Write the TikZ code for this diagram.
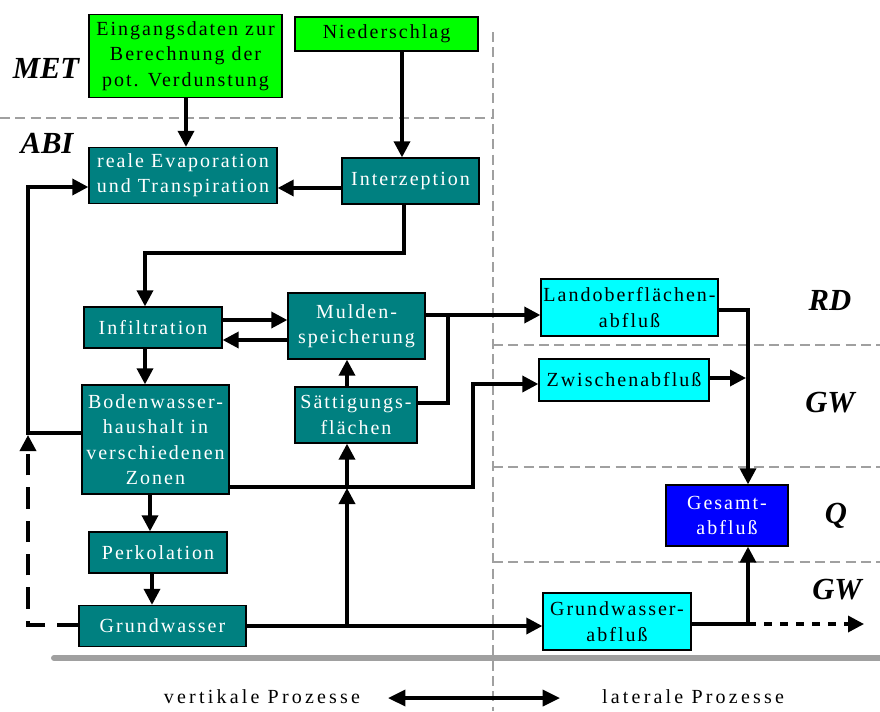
\documentclass[tikz,border=0pt]{standalone}
\usepackage{fontspec}
\setmainfont{Liberation Serif}
\newfontfamily\bxfam[LetterSpace=10]{Liberation Serif}
\newfontfamily\btfam[LetterSpace=16]{Liberation Serif}
\usetikzlibrary{arrows.meta,calc}
\definecolor{gr}{HTML}{00FF00}
\definecolor{tl}{HTML}{008080}
\definecolor{cy}{HTML}{00FFFF}
\definecolor{bl}{HTML}{0000FF}
\definecolor{gy}{HTML}{A0A0A0}
\begin{document}
\begin{tikzpicture}[x=0.75pt,y=-0.75pt,
  sz/.style 2 args={minimum width=#1*0.75pt, minimum height=#2*0.75pt},
  bx/.style={draw=black, line width=1pt, inner sep=0pt, align=center,
    font=\bxfam\fontsize{15}{19}\selectfont},
  greenbox/.style={bx, fill=gr, text=black},
  tealbox/.style={bx, fill=tl, text=white},
  cyanbox/.style={bx, fill=cy, text=black},
  bluebox/.style={bx, fill=bl, text=white},
  lbl/.style={font=\fontsize{23}{23}\selectfont\bfseries\itshape},
  bottxt/.style={font=\btfam\fontsize{15}{18}\selectfont},
  ln/.style={line width=2.6pt},
  tip/.style={-{Triangle[length=12pt,width=12pt]}},
  arr/.style={ln, tip},
  sep/.style={draw=gy, line width=1.2pt, dash pattern=on 7.5pt off 4pt},
]
\useasboundingbox (0,0) rectangle (880,711);

% separators
\draw[sep] (0,118) -- (493,118);
\draw[sep] (493,32) -- (493,711);
\draw[sep] (493,345) -- (880,345);
\draw[sep] (493,467) -- (880,467);
\draw[sep] (493,562) -- (880,562);
\draw[draw=gy, line width=4.5pt, line cap=round] (54,658) -- (880,658);

% labels
\node[lbl] (met) at (46,68) {MET};
\node[lbl] (abi) at (47,143) {ABI};
\node[lbl] (rd) at (830,300) {RD};
\node[lbl] (gw1) at (830,403) {GW};
\node[lbl] (q) at (836,516) {Q};
\node[lbl] (gw2) at (837,590) {GW};

% boxes
\node[greenbox, sz={193}{83}] (ein) at (185.5,56) {Eingangsdaten zur\\Berechnung der\\pot. Verdunstung};
\node[greenbox, sz={183}{34}] (nied) at (386.5,34) {Niederschlag};
\node[tealbox, sz={188}{56}] (evap) at (183,175.5) {reale Evaporation\\und Transpiration};
\node[tealbox, sz={137}{46}] (inter) at (410.5,181) {Interzeption};
\node[tealbox, sz={138}{41}] (infil) at (153,327.5) {Infiltration};
\node[tealbox, sz={137}{66}] (mulden) at (356.5,326) {Mulden-\\speicherung};
\node[tealbox, sz={147}{109}] (boden) at (155.5,439.5) {Bodenwasser-\\haushalt in\\verschiedenen\\Zonen};
\node[tealbox, sz={122}{56}] (saett) at (356,415) {Sättigungs-\\flächen};
\node[tealbox, sz={138}{41}] (perk) at (158,552.5) {Perkolation};
\node[tealbox, sz={167}{41}] (grund) at (162.5,626) {Grundwasser};
\node[cyanbox, sz={177}{57}] (land) at (629.5,307.5) {Landoberflächen-\\abfluß};
\node[cyanbox, sz={170}{42}] (zw) at (624,380) {Zwischenabfluß};
\node[bluebox, sz={122}{61}] (ges) at (727,515.5) {Gesamt-\\abfluß};
\node[cyanbox, sz={148}{57}] (gwa) at (617,621.5) {Grundwasser-\\abfluß};

% bottom
\node[bottxt] (vt) at (262,697) {vertikale Prozesse};
\node[bottxt] (lt) at (693,697) {laterale Prozesse};
\coordinate (dl) at (388,698);
\coordinate (dr) at (560,698);
\draw[ln, {Triangle[length=13pt,width=12pt]}-{Triangle[length=13pt,width=12pt]}] (dl) -- (dr);

% helper coordinates
\coordinate (xA) at (186,0);
\coordinate (xB) at (402,0);
\coordinate (yA) at (0,188);
\coordinate (b1) at (404,253);
\coordinate (b2) at (145,253);
\coordinate (y320) at (0,320);
\coordinate (y340) at (0,340);
\coordinate (x347) at (347,0);
\coordinate (x150) at (150,0);
\coordinate (x152) at (152,0);
\coordinate (y315) at (0,315);
\coordinate (j1) at (448,403);
\coordinate (j2) at (448,315);
\coordinate (y487) at (0,487);
\coordinate (k1) at (473,487);
\coordinate (k2) at (473,384);
\coordinate (y378) at (0,378);
\coordinate (m1) at (746,378);
\coordinate (y310) at (0,310);
\coordinate (n1) at (748,310);
\coordinate (n0) at (748,0);
\coordinate (y624) at (0,624);
\coordinate (n2) at (748,624);
\coordinate (n3) at (864,624);
\coordinate (y626) at (0,626);
\coordinate (p1) at (347,626);
\coordinate (p2) at (347,488);
\coordinate (y433) at (0,433);
\coordinate (l1) at (28,433);
\coordinate (l2) at (28,187);
\coordinate (y187) at (0,187);
\coordinate (l3) at (28,625);
\coordinate (l4) at (28,435);
\coordinate (y625) at (0,625);

% connectors
\draw[arr] (xA |- ein.south) -- (xA |- evap.north);
\draw[arr] (xB |- nied.south) -- (xB |- inter.north);
\draw[arr] (inter.west |- yA) -- (evap.east |- yA);
\draw[arr] (b1 |- inter.south) -- (b1) -- (b2) -- (b2 |- infil.north);
\draw[arr] (infil.east |- y320) -- (mulden.west |- y320);
\draw[arr] (mulden.west |- y340) -- (infil.east |- y340);
\draw[arr] (b2 |- infil.south) -- (b2 |- boden.north);
\draw[arr] (x150 |- boden.south) -- (x150 |- perk.north);
\draw[arr] (x152 |- perk.south) -- (x152 |- grund.north);
\draw[arr] (x347 |- saett.north) -- (x347 |- mulden.south);
\draw[arr] (mulden.east |- y315) -- (land.west |- y315);
\draw[ln] (saett.east |- j1) -- (j1) -- (j2);
\draw[arr] (boden.east |- y487) -- (k1) -- (k2) -- (zw.west |- k2);
\draw[arr] (zw.east |- y378) -- (m1);
\draw[arr] (land.east |- y310) -- (n1) -- (n0 |- ges.north);
\draw[arr] (gwa.east |- y624) -- (n2) -- (n0 |- ges.south);
\draw[ln, tip, dash pattern=on 6pt off 6pt] (n2) -- (n3);
\draw[arr] (grund.east |- y626) -- (gwa.west |- y626);
\draw[arr] (p1) -- (p2);
\draw[arr] (p2) -- (x347 |- saett.south);
\draw[arr] (boden.west |- y433) -- (l1) -- (l2) -- (evap.west |- y187);
\draw[ln, tip, dash pattern=on 16pt off 9pt] (grund.west |- y625) -- (l3) -- (l4);
\end{tikzpicture}
\end{document}
